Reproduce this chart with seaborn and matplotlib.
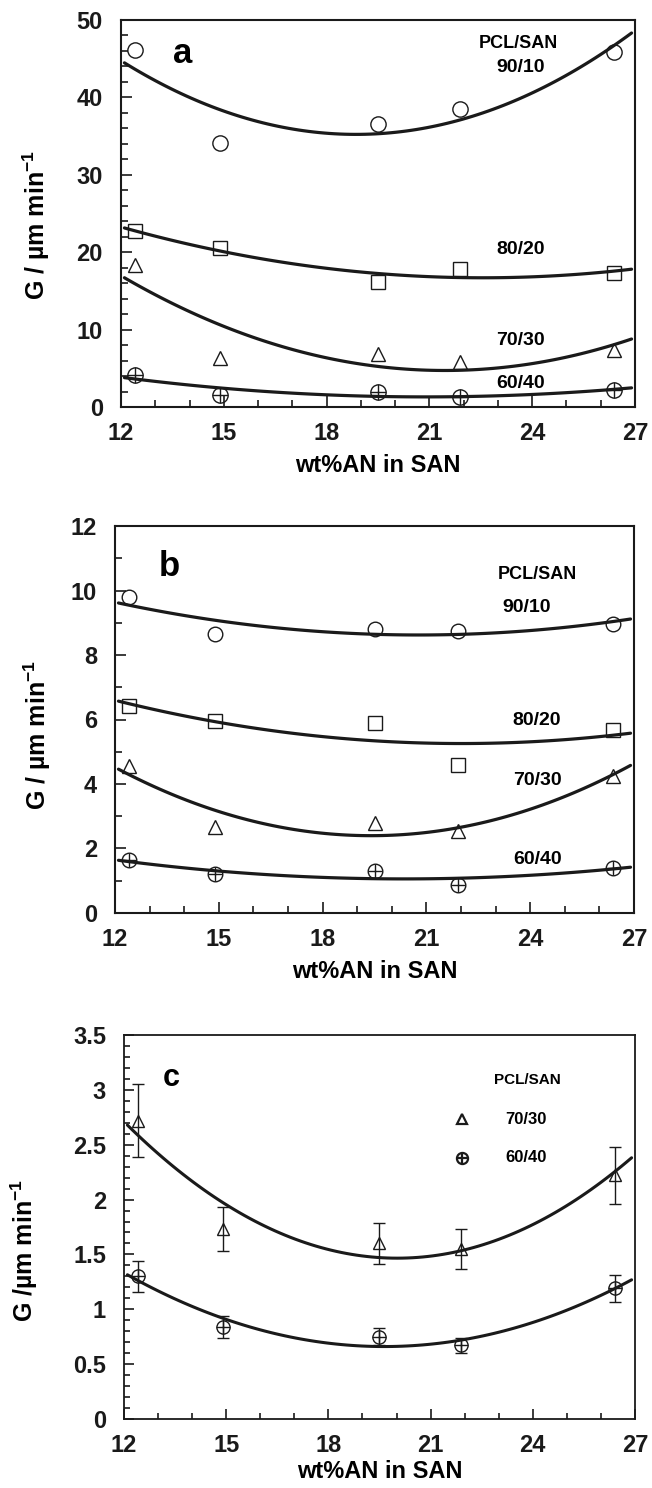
import numpy as np
import matplotlib
matplotlib.use("Agg")
import matplotlib.pyplot as plt
import seaborn as sns
from matplotlib.ticker import MultipleLocator, FixedLocator, FixedFormatter

sns.set_theme(style="ticks")
plt.rcParams["font.family"] = ["Liberation Sans", "DejaVu Sans"]
plt.rcParams["font.weight"] = "bold"
plt.rcParams["axes.labelweight"] = "bold"
plt.rcParams["text.color"] = "black"
plt.rcParams["axes.labelcolor"] = "black"
plt.rcParams["xtick.color"] = "black"
plt.rcParams["ytick.color"] = "black"
plt.rcParams["mathtext.fontset"] = "custom"
plt.rcParams["mathtext.bf"] = "Liberation Sans:bold"
plt.rcParams["mathtext.rm"] = "Liberation Sans:bold"
plt.rcParams["mathtext.default"] = "bf"

# AN content of the SAN copolymers (wt%)
an_wt = [12.4, 14.9, 19.5, 21.9, 26.4]
blends = ["90/10", "80/20", "70/30", "60/40"]

# growth rates, panel a
a_90_10 = [46.1, 34.1, 36.6, 38.5, 45.9]
a_80_20 = [22.7, 20.5, 16.1, 17.8, 17.35]
a_70_30 = [18.35, 6.3, 6.8, 5.85, 7.3]
a_60_40 = [4.1, 1.55, 1.98, 1.25, 2.2]

# growth rates, panel b
b_90_10 = [9.79, 8.64, 8.8, 8.75, 8.96]
b_80_20 = [6.41, 5.95, 5.9, 4.6, 5.67]
b_70_30 = [4.55, 2.68, 2.78, 2.54, 4.26]
b_60_40 = [1.63, 1.2, 1.3, 0.88, 1.4]

# growth rates with errors, panel c
c_70_30 = [2.72, 1.73, 1.6, 1.55, 2.22]
c_70_30_err = [0.33, 0.2, 0.19, 0.18, 0.26]
c_60_40 = [1.30, 0.84, 0.75, 0.67, 1.19]
c_60_40_err = [0.14, 0.1, 0.08, 0.07, 0.12]

markers = {"90/10": "o", "80/20": "s", "70/30": "^", "60/40": "oplus"}

W, H = 652, 1488
fig = plt.figure(figsize=(W / 100, H / 100), dpi=100)


def box(l, t, r, b):
    return [l / W, 1 - b / H, (r - l) / W, (b - t) / H]


ax_a = fig.add_axes(box(121, 20, 635, 407))
ax_b = fig.add_axes(box(115, 526, 634, 913))
ax_c = fig.add_axes(box(124, 1035, 635, 1419))


def draw_points(ax, x, y, kind, ms, mew=1.0):
    if kind == "oplus":
        ax.plot(x, y, ls="none", marker="o", ms=ms, mfc="none", mec="k", mew=mew, zorder=4)
        ax.plot(x, y, ls="none", marker="+", ms=ms, mec="k", mew=mew, zorder=4)
    else:
        ax.plot(x, y, ls="none", marker=kind, ms=ms * (0.92 if kind != "o" else 1.0),
                mfc="none", mec="k", mew=mew, zorder=4)


def draw_fit(ax, x, y, lw=2.3):
    ax.set_xlim(12.1, 26.9)
    sns.regplot(x=np.asarray(x), y=np.asarray(y), order=2, ci=None, scatter=False,
                truncate=False, ax=ax, line_kws=dict(color="k", lw=lw, zorder=3))


def style_axes(ax, ymax, ymajor, yminor, ylabels, tick_fs, spine_w=1.5):
    ax.set_xlim(12, 27)
    ax.set_ylim(0, ymax)
    ax.xaxis.set_major_locator(FixedLocator([12, 15, 18, 21, 24, 27]))
    ax.xaxis.set_minor_locator(MultipleLocator(1))
    yt = list(np.arange(0, ymax + 1e-9, ymajor))
    ax.yaxis.set_major_locator(FixedLocator(yt))
    ax.yaxis.set_major_formatter(FixedFormatter(ylabels))
    ax.yaxis.set_minor_locator(MultipleLocator(yminor))
    ax.tick_params(which="both", direction="in", top=False, right=False, colors="k",
                   width=1.2)
    ax.tick_params(which="major", length=8, labelsize=tick_fs)
    ax.tick_params(which="minor", length=5)
    ax.tick_params(axis="x", which="major", pad=11)
    ax.tick_params(axis="y", which="major", pad=13)
    for s in ax.spines.values():
        s.set_linewidth(spine_w)
        s.set_color("k")
    ax.set_xlabel("wt%AN in SAN", fontsize=17, labelpad=6)


ylab = "G / µm min$^{-1}$"

# panel a
a_series = dict(zip(blends, [a_90_10, a_80_20, a_70_30, a_60_40]))
for name, vals in a_series.items():
    draw_fit(ax_a, an_wt, vals)
    draw_points(ax_a, an_wt, vals, markers[name], 11)
style_axes(ax_a, 50, 10, 2, ["0", "10", "20", "30", "40", "50"], 17)
ax_a.set_ylabel(ylab, fontsize=18)
ax_a.yaxis.set_label_coords(-0.135, 0.47)
ax_a.text(13.8, 45.7, "a", fontsize=25, fontweight="bold", ha="center", va="center")
ax_a.text(23.6, 47.0, "PCL/SAN", fontsize=13, fontweight="bold", ha="center", va="center")
for name, yy in zip(blends, [43.8, 20.3, 8.6, 3.1]):
    ax_a.text(23.65, yy, name, fontsize=14, fontweight="bold", ha="center", va="center")

# panel b
b_series = dict(zip(blends, [b_90_10, b_80_20, b_70_30, b_60_40]))
for name, vals in b_series.items():
    draw_fit(ax_b, an_wt, vals)
    draw_points(ax_b, an_wt, vals, markers[name], 10.5)
style_axes(ax_b, 12, 2, 1, ["0", "2", "4", "6", "8", "10", "12"], 17)
ax_b.set_ylabel(ylab, fontsize=18)
ax_b.yaxis.set_label_coords(-0.12, 0.46)
ax_b.text(13.56, 10.73, "b", fontsize=25, fontweight="bold", ha="center", va="center")
ax_b.text(24.2, 10.5, "PCL/SAN", fontsize=13, fontweight="bold", ha="center", va="center")
for name, xx, yy in zip(blends, [23.9, 24.2, 24.2, 24.2], [9.46, 5.98, 4.12, 1.65]):
    ax_b.text(xx, yy, name, fontsize=14, fontweight="bold", ha="center", va="center")

# panel c
c_series = {"70/30": (c_70_30, c_70_30_err), "60/40": (c_60_40, c_60_40_err)}
for name, (vals, err) in c_series.items():
    draw_fit(ax_c, an_wt, vals, lw=2.2)
    ax_c.errorbar(an_wt, vals, yerr=err, fmt="none", ecolor="k", elinewidth=1.0,
                  capsize=4, capthick=1.0, zorder=3)
    draw_points(ax_c, an_wt, vals, markers[name], 9.5)
style_axes(ax_c, 3.5, 0.5, 0.1, ["0", "0.5", "1", "1.5", "2", "2.5", "3", "3.5"], 17,
           spine_w=1.3)
ax_c.tick_params(which="major", length=7)
ax_c.tick_params(which="minor", length=4)
ax_c.set_xlabel("wt%AN in SAN", fontsize=17, labelpad=2)
ax_c.set_ylabel("G /µm min$^{-1}$", fontsize=18)
ax_c.yaxis.set_label_coords(-0.165, 0.44)
ax_c.text(13.38, 3.11, "c", fontsize=22, fontweight="bold", ha="center", va="center")
ax_c.text(23.83, 3.09, "PCL/SAN", fontsize=11, fontweight="bold", ha="center", va="center")
for name, yy in zip(["70/30", "60/40"], [2.73, 2.38]):
    draw_points(ax_c, [21.92], [yy], markers[name], 8, mew=1.6)
    ax_c.text(23.8, yy, name, fontsize=12, fontweight="bold", ha="center", va="center")

fig.savefig("out.png", dpi=100)
